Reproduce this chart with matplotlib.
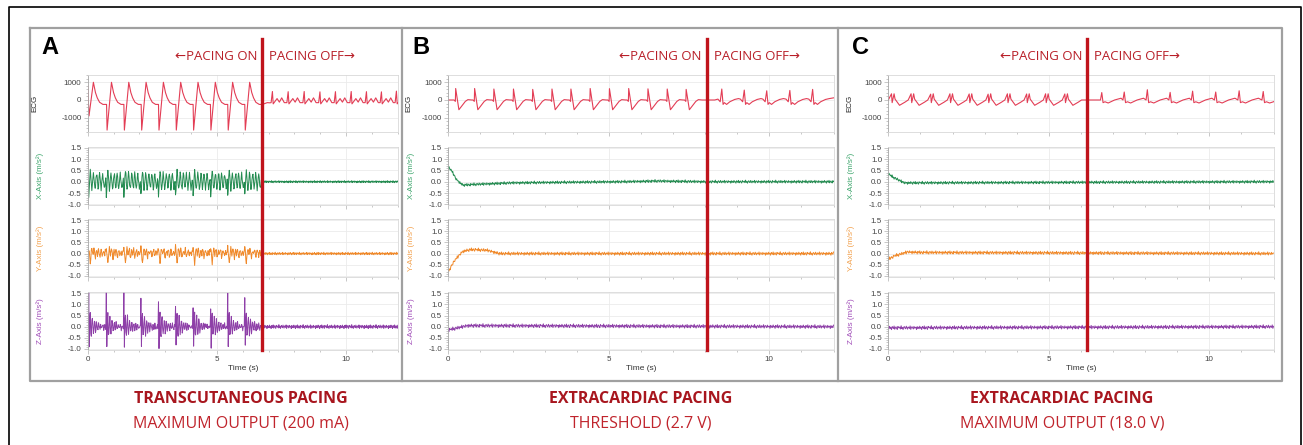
import numpy as np
import matplotlib.pyplot as plt
import matplotlib.transforms as mtransforms
from matplotlib.lines import Line2D
from matplotlib.ticker import MultipleLocator

W, H = 1303, 445

# panel info
panel_ids = ["A", "B", "C"]
pacing_off = [6.76, 8.05, 6.20]
titles = ["TRANSCUTANEOUS PACING", "EXTRACARDIAC PACING", "EXTRACARDIAC PACING"]
subtitles = ["MAXIMUM OUTPUT (200 mA)", "THRESHOLD (2.7 V)", "MAXIMUM OUTPUT (18.0 V)"]
row_labels = ["ECG", "X-Axis (m/s²)", "Y-Axis (m/s²)", "Z-Axis (m/s²)"]

# ---- ECG, panel A (transcutaneous, 200 mA)
a_paced = [0.03, 0.73, 1.40, 2.07, 2.74, 3.41, 4.08, 4.75, 5.42, 6.08]
a_paced_dip = [-900, -1700, -1700, -1700, -1700, -1700, -1700, -1700, -1700, -1700]
a_paced_dt = [0.0, 0.02, 0.19, 0.22, 0.27, 0.34, 0.43, 0.56]
a_paced_v = [-250, -1700, 1000, 780, 420, 120, -130, -250]
a_native = [7.15, 7.76, 8.38, 8.99, 9.59, 10.20, 10.79, 11.37, 11.95]
a_native_amp = [480, 470, 480, 460, 470, 480, 470, 460, 500]
a_native_dt = [-0.05, 0.0, 0.03, 0.08, 0.18, 0.27, 0.36, 0.46]
a_native_v = [-150, 480, -220, -120, 80, -120, 120, -150]
a_extra_t = [0.0, 6.76, 6.95, 7.05]
a_extra_v = [800, -250, -150, -160]

# ---- ECG, panel B (extracardiac, threshold)
b_paced = [0.23, 0.82, 1.42, 2.03, 2.63, 3.23, 3.82, 4.42, 5.02, 5.62, 6.22, 6.82, 7.41]
b_paced_amp = [650, 650, 620, 620, 600, 620, 620, 650, 640, 650, 630, 620, 600]
b_paced_dt = [-0.05, -0.01, 0.0, 0.1, 0.3, 0.38, 0.5]
b_paced_v = [0, -80, 650, -550, -80, 20, 0]
b_native = [8.52, 9.22, 9.92, 10.64, 11.35]
b_native_amp = [620, 560, 520, 540, 600]
b_native_dt = [-0.12, -0.05, 0.0, 0.04, 0.08, 0.15, 0.25, 0.40, 0.52]
b_native_v = [50, -100, 600, -250, -150, -250, -100, 30, 80]
b_extra_t = [0.0, 7.9, 8.3, 12.0]
b_extra_v = [0, 0, 0, 120]

# ---- ECG, panel C (extracardiac, 18 V)
c_paced = [0.10, 0.71, 1.32, 1.92, 2.52, 3.11, 3.71, 4.31, 4.90, 5.50]
c_paced_amp = [350, 350, 330, 350, 340, 330, 350, 340, 350, 340]
c_paced_dt = [0.0, 0.02, 0.05, 0.08, 0.11, 0.25, 0.42, 0.52]
c_paced_v = [350, -150, 100, 350, 50, -300, -120, 0]
c_native = [6.65, 7.35, 8.07, 8.78, 9.48, 10.20, 10.93, 11.68]
c_native_amp = [420, 450, 580, 430, 500, 450, 520, 480]
c_native_dt = [-0.04, 0.0, 0.04, 0.10, 0.20, 0.40, 0.60]
c_native_v = [0, 450, -150, -100, -170, 0, 100]
c_extra_t = [0.0, 6.2, 6.55, 12.0]
c_extra_v = [0, 0, 0, -100]

# ---- accelerometer (m/s^2)
ripple = [0.3, -0.5, 0.8, -0.2, 0.1, -0.9, 0.6, 0.2, -0.4, 0.9, -0.7, 0.0,
          0.5, -0.3, -0.8, 0.7, 0.1, -0.1, 0.4, -0.6, 1.0, -0.4, 0.2, -0.9,
          0.3, 0.6, -0.2, -0.5, 0.8, 0.0, -0.7, 0.4, 0.1, -0.3, 0.9, -0.8,
          0.2, 0.5, -0.1, -0.6, 0.7, -0.2, 0.0, 0.3, -0.9, 0.6, -0.4]

# panel A per-beat motion during pacing (0.02 s steps)
ax_beat = [-0.7, -0.3, 0.2, 0.5, 0.3, -0.1, -0.35, -0.2, 0.15, 0.4, 0.25, -0.1,
           -0.3, -0.25, 0.1, 0.35, 0.3, 0.0, -0.3, -0.2, 0.15, 0.4, 0.2, -0.1,
           -0.35, -0.15, 0.2, 0.35, 0.15, -0.1, -0.3, -0.2, 0.05, 0.1]
ay_beat = [0.2, 0.1, -0.2, -0.45, -0.2, 0.1, 0.25, 0.1, -0.05, 0.05, 0.2, 0.15,
           -0.1, -0.2, 0.0, 0.15, 0.05, -0.05, 0.1, 0.2, 0.05, -0.15, -0.1, 0.05,
           0.15, 0.1, -0.05, -0.1, 0.05, 0.1, 0.0, -0.05, 0.1, 0.15]
az_beat = [1.0, -0.9, 0.3, 0.6, -0.3, -0.4, 0.2, 0.45, 0.0, -0.35, -0.1, 0.3,
           0.15, -0.25, -0.15, 0.2, 0.15, -0.15, -0.1, 0.15, 0.1, -0.1, -0.1, 0.1,
           0.05, -0.1, 0.0, 0.1, 0.0, -0.1, -0.05, 0.05, 0.0, -0.05]
az_peak = [1.5, 1.5, 1.5, 1.4, 1.1, 1.0, 0.85, 0.8, 1.5, 1.4]

# slow baselines (knots) and noise size (during pacing, after pacing)
acc_trend_t = {
    ("A", 1): [0, 12], ("A", 2): [0, 12], ("A", 3): [0, 12],
    ("B", 1): [0, 0.1, 0.25, 0.45, 0.8, 2.0, 4.0, 5.5, 6.5, 8, 12],
    ("B", 2): [0, 0.2, 0.45, 0.7, 1.2, 1.6, 12],
    ("B", 3): [0, 0.3, 0.6, 12],
    ("C", 1): [0, 0.15, 0.5, 1.0, 12],
    ("C", 2): [0, 0.2, 0.6, 1.0, 12],
    ("C", 3): [0, 12],
}
acc_trend_v = {
    ("A", 1): [0, 0], ("A", 2): [0, 0], ("A", 3): [0, 0],
    ("B", 1): [0.65, 0.5, 0.1, -0.15, -0.12, -0.05, -0.02, 0.0, 0.03, 0.0, 0.0],
    ("B", 2): [-0.8, -0.3, 0.1, 0.18, 0.15, 0.0, 0.0],
    ("B", 3): [-0.15, -0.05, 0.05, 0.0],
    ("C", 1): [0.35, 0.2, -0.05, -0.05, 0.0],
    ("C", 2): [-0.25, -0.1, 0.07, 0.05, 0.0],
    ("C", 3): [-0.05, 0.0],
}
acc_noise = {
    ("A", 1): (0.09, 0.05), ("A", 2): (0.09, 0.06), ("A", 3): (0.09, 0.09),
    ("B", 1): (0.07, 0.07), ("B", 2): (0.08, 0.08), ("B", 3): (0.09, 0.09),
    ("C", 1): (0.07, 0.07), ("C", 2): (0.08, 0.08), ("C", 3): (0.09, 0.09),
}

colors = ["#e33d55", "#238b50", "#f0892a", "#8e3fa8"]
label_colors = ["#222222", "#3aa46a", "#f2a04c", "#a04cb8"]
dark_red = "#b81f28"

dt = 0.02
T = np.arange(0, 12 + dt / 2, dt)


def ecg_points(paced, paced_amp, p_dt, p_v, key, native, native_amp, n_dt, n_v, key2, ext_t, ext_v):
    pts = list(zip(ext_t, ext_v))
    for b, amp in zip(paced, paced_amp):
        for k, (o, v) in enumerate(zip(p_dt, p_v)):
            pts.append((b + o, amp if k == key else v))
    for b, amp in zip(native, native_amp):
        for k, (o, v) in enumerate(zip(n_dt, n_v)):
            pts.append((b + o, amp if k == key2 else v))
    pts.sort()
    return [p[0] for p in pts], [p[1] for p in pts]


def acc_trace(pid, row, off, shift, beats=None, tmpl=None, peaks=None):
    y = np.interp(T, acc_trend_t[(pid, row)], acc_trend_v[(pid, row)])
    rip = np.resize(np.roll(ripple, shift), len(T))
    n_on, n_off = acc_noise[(pid, row)]
    y = y + rip * np.where(T < off, n_on, n_off)
    if beats is not None:
        for k, b in enumerate(beats):
            seg = list(tmpl)
            if peaks is not None:
                seg[0] = peaks[k]
            i0 = int(round(b / dt))
            n = min(len(seg), len(T) - i0)
            y[i0:i0 + n] += np.array(seg[:n])
    return y


ecg = {
    "A": ecg_points(a_paced, a_paced_dip, a_paced_dt, a_paced_v, 1,
                    a_native, a_native_amp, a_native_dt, a_native_v, 1, a_extra_t, a_extra_v),
    "B": ecg_points(b_paced, b_paced_amp, b_paced_dt, b_paced_v, 2,
                    b_native, b_native_amp, b_native_dt, b_native_v, 2, b_extra_t, b_extra_v),
    "C": ecg_points(c_paced, c_paced_amp, c_paced_dt, c_paced_v, 0,
                    c_native, c_native_amp, c_native_dt, c_native_v, 1, c_extra_t, c_extra_v),
}

plt.rcParams["font.family"] = ["Liberation Sans", "DejaVu Sans"]
plt.rcParams["axes.unicode_minus"] = False
fig = plt.figure(figsize=(W / 100, H / 100), dpi=100)


def px_rect(x0, x1, y0, y1):
    return [x0 / W, 1 - y1 / H, (x1 - x0) / W, (y1 - y0) / H]


def fig_line(xs, ys, **kw):
    fig.add_artist(Line2D([x / W for x in xs], [1 - y / H for y in ys],
                          transform=fig.transFigure, **kw))


# frames: outer black border and gray panel box
fig_line([9, 9, 1301, 1301], [445, 7, 7, 445], color="black", lw=1.2)
fig_line([30, 1281.7, 1281.7, 30, 30], [28, 28, 381, 381, 28], color="#a0a0a0", lw=1.6)
fig_line([402.3, 402.3], [28, 381], color="#a0a0a0", lw=1.6)
fig_line([838, 838], [28, 381], color="#a0a0a0", lw=1.6)

panels_px = [(87.7, 397.7), (448.3, 833.5), (888.3, 1273.5)]
rows_px = [(75.0, 132.3), (146.6, 205.4), (218.7, 277.1), (292.0, 350.1)]
label_off = [(49, 44), (36, 33), (35, 33)]
letter_x = [41, 412, 852]
title_x = [241, 641, 1062]

for p, pid in enumerate(panel_ids):
    x0, x1 = panels_px[p]
    off = pacing_off[p]
    axes = []
    for r in range(4):
        y0, y1 = rows_px[r]
        ax = fig.add_axes(px_rect(x0, x1, y0, y1))
        axes.append(ax)
        if r == 0:
            tx, ty = ecg[pid]
            ax.plot(tx, ty, color=colors[0], lw=0.8)
            ax.set_ylim(-1825, 1412)
            ax.yaxis.set_major_locator(MultipleLocator(1000))
            ax.yaxis.set_minor_locator(MultipleLocator(200))
        else:
            shift = 7 * r + 13 * p
            if pid == "A":
                tmpl = [ax_beat, ay_beat, az_beat][r - 1]
                peaks = az_peak if r == 3 else None
                y = acc_trace(pid, r, off, shift, a_paced, tmpl, peaks)
            else:
                y = acc_trace(pid, r, off, shift)
            ax.plot(T, y, color=colors[r], lw=0.7)
            ax.set_ylim(-1.05, 1.56)
            ax.yaxis.set_major_locator(MultipleLocator(0.5))
            ax.yaxis.set_minor_locator(MultipleLocator(0.1))
        ax.set_xlim(0, 12)
        ax.xaxis.set_major_locator(MultipleLocator(5))
        ax.xaxis.set_minor_locator(MultipleLocator(1))
        ax.grid(True, which="major", color="#ebebeb", lw=0.6)
        ax.set_axisbelow(True)
        for s in ax.spines.values():
            s.set_color("#d8d8d8")
            s.set_linewidth(0.6)
        ax.spines["left"].set_color("#a8a8a8")
        ax.tick_params(which="both", direction="out", colors="#b0b0b0",
                       labelcolor="#444444", labelsize=5.8, width=0.5, pad=1.5)
        ax.tick_params(which="major", length=3)
        ax.tick_params(which="minor", length=1.5)
        if r < 3:
            ax.tick_params(axis="x", labelbottom=False)
        else:
            ax.set_xlabel("Time (s)", fontsize=6, color="#333333", labelpad=1.5)
        ax.set_ylabel(row_labels[r], fontsize=5.8, color=label_colors[r])
        loff = label_off[p][0] if r == 0 else label_off[p][1]
        ax.yaxis.set_label_coords(-loff / (x1 - x0), 0.5)

    # pacing off line spanning the panel
    blend = mtransforms.blended_transform_factory(axes[0].transData, fig.transFigure)
    fig.add_artist(Line2D([off, off], [1 - 39 / H, 1 - 350 / H], transform=blend,
                          color="#c0141c", lw=2.4))
    t_left = mtransforms.offset_copy(blend, fig=fig, x=-5, y=0, units="dots")
    t_right = mtransforms.offset_copy(blend, fig=fig, x=7, y=0, units="dots")
    fig.text(off, 1 - 56 / H, "←PACING ON", transform=t_left, ha="right", va="center",
             fontsize=9.5, color=dark_red, family=["Open Sans", "DejaVu Sans"])
    fig.text(off, 1 - 56 / H, "PACING OFF→", transform=t_right, ha="left", va="center",
             fontsize=9.5, color=dark_red, family=["Open Sans", "DejaVu Sans"])

    fig.text(letter_x[p] / W, 1 - 47 / H, pid, ha="left", va="center",
             fontsize=17, fontweight="bold", color="black")
    fig.text(title_x[p] / W, 1 - 399 / H, titles[p], ha="center", va="center",
             fontsize=11.5, fontweight="bold", color="#a8161e",
             family=["Open Sans", "DejaVu Sans"])
    fig.text(title_x[p] / W, 1 - 424 / H, subtitles[p], ha="center", va="center",
             fontsize=11.5, color="#c0242c", family=["Open Sans", "DejaVu Sans"])

fig.savefig("out.png", dpi=100)
